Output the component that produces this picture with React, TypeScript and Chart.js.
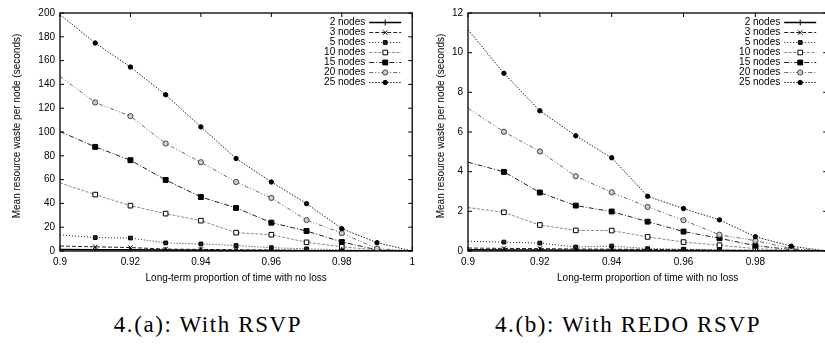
import React, { useEffect, useRef } from "react";
import { Chart, registerables } from "chart.js";

Chart.register(...registerables);

// ---- Data ----
const XS = [0.9, 0.91, 0.92, 0.93, 0.94, 0.95, 0.96, 0.97, 0.98, 0.99, 1.0];
const SERIES_LABELS = ["2 nodes", "3 nodes", "5 nodes", "10 nodes", "15 nodes", "20 nodes", "25 nodes"];

// Panel (a): With RSVP
const RSVP_2 = [1.3, 1.1, 1.0, 0.8, 0.6, 0.5, 0.4, 0.3, 0.2, 0.1, 0];
const RSVP_3 = [4.2, 3.5, 2.9, 1.6, 1.3, 1.0, 0.8, 0.5, 0.3, 0.1, 0];
const RSVP_5 = [13.5, 11.3, 10.9, 6.8, 5.9, 4.6, 2.8, 1.8, 1.0, 0.4, 0];
const RSVP_10 = [57.2, 47.4, 38.1, 31.4, 25.5, 15.4, 13.7, 7.3, 3.6, 0.8, 0];
const RSVP_15 = [100.4, 87.5, 76.3, 59.7, 45.4, 36.2, 23.8, 16.8, 7.6, 1.0, 0];
const RSVP_20 = [146.7, 124.8, 113.3, 90.3, 74.6, 58.0, 44.6, 26.0, 15.0, 2.0, 0];
const RSVP_25 = [198.6, 174.8, 154.6, 131.3, 104.3, 77.7, 58.0, 39.8, 18.8, 7.0, 0];

// Panel (b): With REDO RSVP
const REDO_2 = [0.06, 0.05, 0.05, 0.04, 0.04, 0.03, 0.03, 0.02, 0.01, 0.005, 0];
const REDO_3 = [0.15, 0.13, 0.12, 0.1, 0.09, 0.08, 0.06, 0.04, 0.03, 0.01, 0];
const REDO_5 = [0.49, 0.45, 0.4, 0.2, 0.25, 0.12, 0.09, 0.06, 0.04, 0.02, 0];
const REDO_10 = [2.19, 1.95, 1.31, 1.04, 1.03, 0.71, 0.45, 0.29, 0.12, 0.04, 0];
const REDO_15 = [4.48, 3.99, 2.95, 2.29, 1.99, 1.48, 0.98, 0.64, 0.27, 0.07, 0];
const REDO_20 = [7.2, 6.01, 5.02, 3.77, 2.96, 2.22, 1.55, 0.82, 0.52, 0.12, 0];
const REDO_25 = [11.16, 8.96, 7.07, 5.81, 4.7, 2.76, 2.14, 1.57, 0.72, 0.24, 0];

const X_TICK_STEP = 0.02;
const X_TITLE = "Long-term proportion of time with no loss";
const Y_TITLE = "Mean resource waste per node (seconds)";
const CAPTION_A = "4.(a): With RSVP";
const CAPTION_B = "4.(b): With REDO RSVP";

// ---- Styles ----
type Sty = { color: string; dash: number[]; width: number; point: string; fill: string; r: number };
const STYLES: Sty[] = [
  { color: "#000000", dash: [], width: 1.4, point: "cross", fill: "#000", r: 3 },
  { color: "#222222", dash: [4, 2], width: 1, point: "crossRot", fill: "#000", r: 3 },
  { color: "#222222", dash: [1, 2], width: 1, point: "rect", fill: "#222", r: 2.6 },
  { color: "#8a8a8a", dash: [3, 1.5], width: 1, point: "rect", fill: "#ffffff", r: 3.2 },
  { color: "#222222", dash: [5, 2, 1, 2], width: 1, point: "rect", fill: "#000", r: 3.4 },
  { color: "#6a6a6a", dash: [4, 2, 1, 2, 1, 2], width: 1, point: "circle", fill: "#cccccc", r: 2.6 },
  { color: "#222222", dash: [1.5, 1.5], width: 1, point: "circle", fill: "#000", r: 2.2 },
];

const FONT = "'Liberation Sans', Arial, Helvetica, sans-serif";

function drawMarker(ctx: CanvasRenderingContext2D, s: Sty, x: number, y: number) {
  ctx.save();
  ctx.setLineDash([]);
  ctx.lineWidth = 1;
  ctx.strokeStyle = s.point === "circle" && s.fill !== "#000" ? "#444" : "#000";
  ctx.fillStyle = s.fill;
  const r = s.r;
  ctx.beginPath();
  if (s.point === "cross") {
    ctx.moveTo(x - r, y); ctx.lineTo(x + r, y); ctx.moveTo(x, y - r); ctx.lineTo(x, y + r); ctx.stroke();
  } else if (s.point === "crossRot") {
    const d = r * 0.75;
    ctx.moveTo(x - d, y - d); ctx.lineTo(x + d, y + d); ctx.moveTo(x - d, y + d); ctx.lineTo(x + d, y - d); ctx.stroke();
  } else if (s.point === "rect") {
    const h = r * 0.72;
    ctx.rect(x - h, y - h, 2 * h, 2 * h); ctx.fill(); ctx.stroke();
  } else {
    ctx.arc(x, y, r, 0, Math.PI * 2); ctx.fill(); ctx.stroke();
  }
  ctx.restore();
}

const fmt = (v: number) => String(Number(v.toFixed(2)));

function makeFramePlugin(yTitleX: number) {
  return {
    id: "gnuplotFrame",
    afterDatasetsDraw(chart: any) {
      const { ctx, chartArea: a, scales } = chart;
      const xs = scales.x, ys = scales.y;
      ctx.save();
      // frame
      ctx.setLineDash([]);
      ctx.strokeStyle = "#000";
      ctx.lineWidth = 1.3;
      ctx.strokeRect(a.left, a.top, a.right - a.left, a.bottom - a.top);
      // inward ticks
      ctx.lineWidth = 1;
      const tl = 4;
      ctx.beginPath();
      xs.ticks.forEach((t: any) => {
        const px = xs.getPixelForValue(t.value);
        ctx.moveTo(px, a.bottom); ctx.lineTo(px, a.bottom - tl);
        ctx.moveTo(px, a.top); ctx.lineTo(px, a.top + tl);
      });
      ys.ticks.forEach((t: any) => {
        const py = ys.getPixelForValue(t.value);
        ctx.moveTo(a.left, py); ctx.lineTo(a.left + tl, py);
        ctx.moveTo(a.right, py); ctx.lineTo(a.right - tl, py);
      });
      ctx.stroke();

      // legend
      ctx.font = `10px ${FONT}`;
      ctx.fillStyle = "#000";
      ctx.textAlign = "right";
      ctx.textBaseline = "middle";
      chart.data.datasets.forEach((ds: any, i: number) => {
        const s = STYLES[i];
        const y = a.top + 9.5 + i * 10;
        ctx.fillText(ds.label, a.right - 47, y);
        ctx.save();
        ctx.strokeStyle = s.color;
        ctx.lineWidth = s.width;
        ctx.setLineDash(s.dash);
        ctx.beginPath();
        ctx.moveTo(a.right - 43, y);
        ctx.lineTo(a.right - 11, y);
        ctx.stroke();
        ctx.restore();
        drawMarker(ctx, s, a.right - 27, y);
      });

      // axis titles
      ctx.textAlign = "center";
      ctx.fillText(X_TITLE, (a.left + a.right) / 2, 278);
      ctx.save();
      ctx.translate(yTitleX, (a.top + a.bottom) / 2 - 6);
      ctx.rotate(-Math.PI / 2);
      ctx.fillText(Y_TITLE, 0, 0);
      ctx.restore();
      ctx.restore();
    },
  };
}

function buildConfig(series: number[][], yMax: number, yStep: number, yScaleWidth: number, padRight: number, yTitleX: number): any {
  return {
    type: "line",
    data: {
      datasets: series.map((vals, i) => {
        const s = STYLES[i];
        return {
          label: SERIES_LABELS[i],
          data: XS.map((x, k) => ({ x, y: vals[k] })),
          borderColor: s.color,
          borderWidth: s.width,
          borderDash: s.dash,
          tension: 0,
          pointRadius: 0,
          pointHoverRadius: 0,
          fill: false,
        };
      }),
    },
    options: {
      animation: false,
      responsive: false,
      devicePixelRatio: 1,
      events: [],
      layout: { padding: { top: 13, right: padRight, left: 0, bottom: 0 } },
      plugins: { legend: { display: false }, tooltip: { enabled: false }, title: { display: false } },
      scales: {
        x: {
          type: "linear",
          min: XS[0],
          max: XS[XS.length - 1],
          border: { display: false },
          grid: { display: false, drawTicks: false },
          ticks: {
            stepSize: X_TICK_STEP,
            padding: 5,
            color: "#000",
            font: { family: FONT, size: 10 },
            maxRotation: 0,
            autoSkip: false,
            callback: (v: number) => fmt(v),
          },
          afterFit: (sc: any) => { sc.height = 39; },
        },
        y: {
          type: "linear",
          min: 0,
          max: yMax,
          border: { display: false },
          grid: { display: false, drawTicks: false },
          ticks: {
            stepSize: yStep,
            padding: 5,
            color: "#000",
            font: { family: FONT, size: 10 },
            callback: (v: number) => fmt(v),
          },
          afterFit: (sc: any) => { sc.width = yScaleWidth; },
        },
      },
    },
    plugins: [
      {
        id: "markers",
        afterDatasetsDraw(chart: any) {
          const { ctx, chartArea: a } = chart;
          ctx.save();
          ctx.beginPath();
          ctx.rect(a.left, a.top, a.right - a.left, a.bottom - a.top);
          ctx.clip();
          chart.data.datasets.forEach((ds: any, i: number) => {
            const meta = chart.getDatasetMeta(i);
            meta.data.forEach((el: any, k: number) => {
              if (k === 0 || k === meta.data.length - 1) return;
              drawMarker(ctx, STYLES[i], el.x, el.y);
            });
          });
          ctx.restore();
        },
      },
      makeFramePlugin(yTitleX),
    ],
  };
}

function Panel(props: { series: number[][]; yMax: number; yStep: number; left: number; width: number; yScaleWidth: number; padRight: number; yTitleX: number }) {
  const ref = useRef<HTMLCanvasElement | null>(null);
  useEffect(() => {
    if (!ref.current) return;
    const chart = new Chart(ref.current, buildConfig(props.series, props.yMax, props.yStep, props.yScaleWidth, props.padRight, props.yTitleX));
    return () => chart.destroy();
  }, []);
  return (
    <canvas
      ref={ref}
      width={props.width}
      height={290}
      style={{ position: "absolute", left: props.left, top: 0, width: props.width, height: 290 }}
    />
  );
}

const captionStyle: React.CSSProperties = {
  position: "absolute",
  top: 311,
  fontFamily: "'Liberation Serif', 'DejaVu Serif', serif",
  fontSize: 23,
  letterSpacing: "1.6px",
  lineHeight: "28px",
  whiteSpace: "nowrap",
  color: "#000",
  transform: "translateX(-50%)",
};

export default function App() {
  return (
    <div style={{ position: "fixed", left: 0, top: 0, width: 825, height: 354, overflow: "hidden", background: "#fff" }}>
      <Panel
        series={[RSVP_2, RSVP_3, RSVP_5, RSVP_10, RSVP_15, RSVP_20, RSVP_25]}
        yMax={200}
        yStep={20}
        left={0}
        width={420}
        yScaleWidth={60}
        padRight={7}
        yTitleX={17}
      />
      <Panel
        series={[REDO_2, REDO_3, REDO_5, REDO_10, REDO_15, REDO_20, REDO_25]}
        yMax={12}
        yStep={2}
        left={405}
        width={430}
        yScaleWidth={63}
        padRight={7.5}
        yTitleX={36}
      />
      <div style={{ ...captionStyle, left: 208 }}>{CAPTION_A}</div>
      <div style={{ ...captionStyle, left: 628 }}>{CAPTION_B}</div>
    </div>
  );
}
